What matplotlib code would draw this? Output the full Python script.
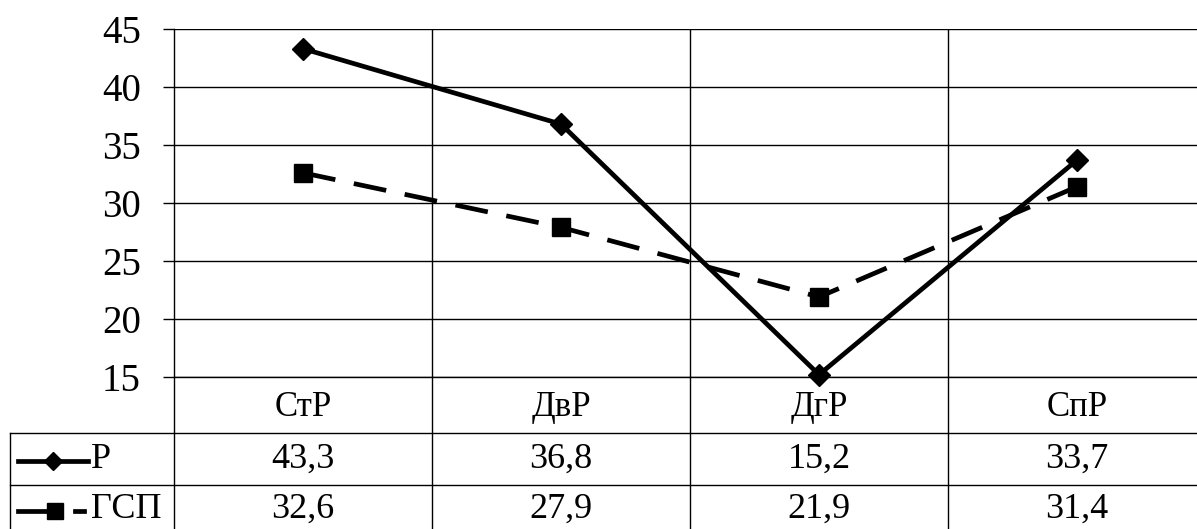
import matplotlib
matplotlib.use("Agg")
import matplotlib.pyplot as plt
from matplotlib.lines import Line2D
from matplotlib.transforms import blended_transform_factory

categories = ["СтР", "ДвР", "ДгР", "СпР"]
series_names = ["Р", "ГСП"]
values_p = [43.3, 36.8, 15.2, 33.7]
values_gsp = [32.6, 27.9, 21.9, 31.4]
yticks = [15, 20, 25, 30, 35, 40, 45]

plt.rcParams['font.family'] = ['Liberation Serif', 'DejaVu Serif']

W, H = 1197, 529
fig = plt.figure(figsize=(W / 100, H / 100), dpi=100)

def fx(px):
    return px / W

def fy(py):
    return 1 - py / H

left, right, top, bottom = 174, 1206, 29, 377
ax = fig.add_axes([fx(left), fy(bottom), fx(right) - fx(left), fy(top) - fy(bottom)])
ax.set_xlim(-0.5, len(categories) - 0.5)
ax.set_ylim(15, 45)
ax.set_yticks(yticks)
ax.set_yticklabels([str(t) for t in yticks], fontsize=28)
ax.tick_params(axis='y', length=8, width=1.0, pad=16, color='black')
ax.set_xticks([])
for y in yticks:
    ax.axhline(y, color='black', lw=1.0, zorder=1)
for i in range(1, len(categories)):
    ax.axvline(i - 0.5, color='black', lw=1.0, zorder=1)
for s in ['top', 'right', 'bottom']:
    ax.spines[s].set_visible(False)
ax.spines['left'].set_linewidth(1.0)

x = list(range(len(categories)))
lp, = ax.plot(x, values_p, color='black', lw=3.4, marker='D', markersize=11.5,
              zorder=3, clip_on=False)
lg, = ax.plot(x, values_gsp, color='black', lw=3.4, marker='s', markersize=13,
              zorder=3, clip_on=False)
lg.set_dashes((7, 4))

# Data table
row_lines = [bottom, 433, 485]
tab_left = 10
bt = blended_transform_factory(ax.transData, fig.transFigure)
for i, ry in enumerate(row_lines):
    x0 = left if i == 0 else tab_left
    fig.add_artist(Line2D([fx(x0), 1.0], [fy(ry), fy(ry)], color='black', lw=1.0,
                          transform=fig.transFigure))
fig.add_artist(Line2D([fx(tab_left), fx(tab_left)], [fy(433), 0], color='black', lw=1.0,
                      transform=fig.transFigure))
fig.add_artist(Line2D([fx(left), fx(left)], [fy(bottom), 0], color='black', lw=1.0,
                      transform=fig.transFigure))
for i in range(1, len(categories)):
    fig.add_artist(Line2D([i - 0.5, i - 0.5], [fy(bottom), 0], color='black', lw=1.0,
                          transform=bt))

for i, c in enumerate(categories):
    fig.text(i, fy(407), c, transform=bt, ha='center', va='center', fontsize=25)
    fig.text(i, fy(459), f"{values_p[i]:.1f}".replace('.', ','), transform=bt,
             ha='center', va='center', fontsize=26)
    fig.text(i, fy(509), f"{values_gsp[i]:.1f}".replace('.', ','), transform=bt,
             ha='center', va='center', fontsize=26)

# legend keys in table
ky1, ky2 = 461, 511
fig.add_artist(Line2D([fx(18), fx(88)], [fy(ky1), fy(ky1)], color='black', lw=3.4,
                      transform=fig.transFigure))
fig.add_artist(Line2D([fx(53)], [fy(ky1)], color='black', marker='D', markersize=9,
                      transform=fig.transFigure))
fig.text(fx(91), fy(459), series_names[0], ha='left', va='center', fontsize=26)
fig.add_artist(Line2D([fx(18), fx(50)], [fy(ky2), fy(ky2)], color='black', lw=3.4,
                      transform=fig.transFigure))
fig.add_artist(Line2D([fx(75), fx(84)], [fy(ky2), fy(ky2)], color='black', lw=3.4,
                      transform=fig.transFigure))
fig.add_artist(Line2D([fx(55)], [fy(ky2)], color='black', marker='s', markersize=11,
                      transform=fig.transFigure))
fig.text(fx(91), fy(509), series_names[1], ha='left', va='center', fontsize=26)

fig.savefig("out.png", dpi=100)
